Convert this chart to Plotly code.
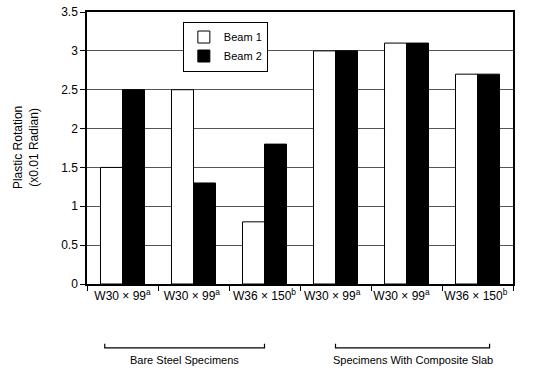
import plotly.graph_objects as go

categories = ["W30 × 99<sup>a</sup>", "W30 × 99<sup>a</sup> ", "W36 × 150<sup>b</sup>",
              "W30 × 99<sup>a</sup>  ", "W30 × 99<sup>a</sup>   ", "W36 × 150<sup>b</sup> "]
beam1 = [1.5, 2.5, 0.8, 3.0, 3.1, 2.7]
beam2 = [2.5, 1.3, 1.8, 3.0, 3.1, 2.7]
groups = [("Bare Steel Specimens", -0.25, 2.0), ("Specimens With Composite Slab", 3.0, 5.17)]

FONT = "Liberation Sans, Arial, sans-serif"

fig = go.Figure()
fig.add_trace(go.Bar(x=categories, y=beam1, name="Beam 1",
                     marker=dict(color="white", line=dict(color="black", width=1))))
fig.add_trace(go.Bar(x=categories, y=beam2, name="Beam 2",
                     marker=dict(color="black", line=dict(color="black", width=1))))

fig.update_layout(
    width=546, height=372, barmode="group", bargap=0.38, bargroupgap=0,
    plot_bgcolor="white", paper_bgcolor="white",
    margin=dict(l=87, r=33, t=12, b=88),
    font=dict(family=FONT, size=12, color="black"),
    legend=dict(x=0.225, y=0.965, xanchor="left", yanchor="top",
                bordercolor="black", borderwidth=1, bgcolor="white",
                font=dict(size=11), itemwidth=30, tracegroupgap=0),
    showlegend=True,
)
fig.update_yaxes(range=[0, 3.5], dtick=0.5, showgrid=True, gridcolor="#555555", gridwidth=1,
                 showline=True, linecolor="black", linewidth=1.5, mirror=True,
                 ticks="outside", ticklen=5, tickcolor="black", automargin=False,
                 zeroline=False)
fig.update_xaxes(showline=True, linecolor="black", linewidth=1.5, mirror=True,
                 ticks="outside", tickson="boundaries", ticklen=5, tickcolor="black",
                 tickangle=0, automargin=False,
                 tickfont=dict(size=12), showgrid=False)

# y-axis title as a rotated annotation so it sits where the original does
fig.add_annotation(x=-0.143, y=0.5, xref="paper", yref="paper", textangle=-90,
                   text="Plastic Rotation<br>(x0.01 Radian)", showarrow=False,
                   xanchor="center", yanchor="middle", font=dict(size=12))

for label, x0, x1 in groups:
    fig.add_shape(type="path", xref="x", yref="paper",
                  path=f"M {x0},-0.22 L {x0},-0.235 L {x1},-0.235 L {x1},-0.22",
                  line=dict(color="black", width=1.2))
    fig.add_annotation(x=(x0 + x1) / 2, y=-0.28, xref="x", yref="paper", text=label,
                       showarrow=False, yanchor="middle", font=dict(size=11))

# drop the browser's default 8px body margin so the figure fills the window
fig.write_html("out.html", config={"displayModeBar": False},
               post_script="document.body.style.margin='0';")
